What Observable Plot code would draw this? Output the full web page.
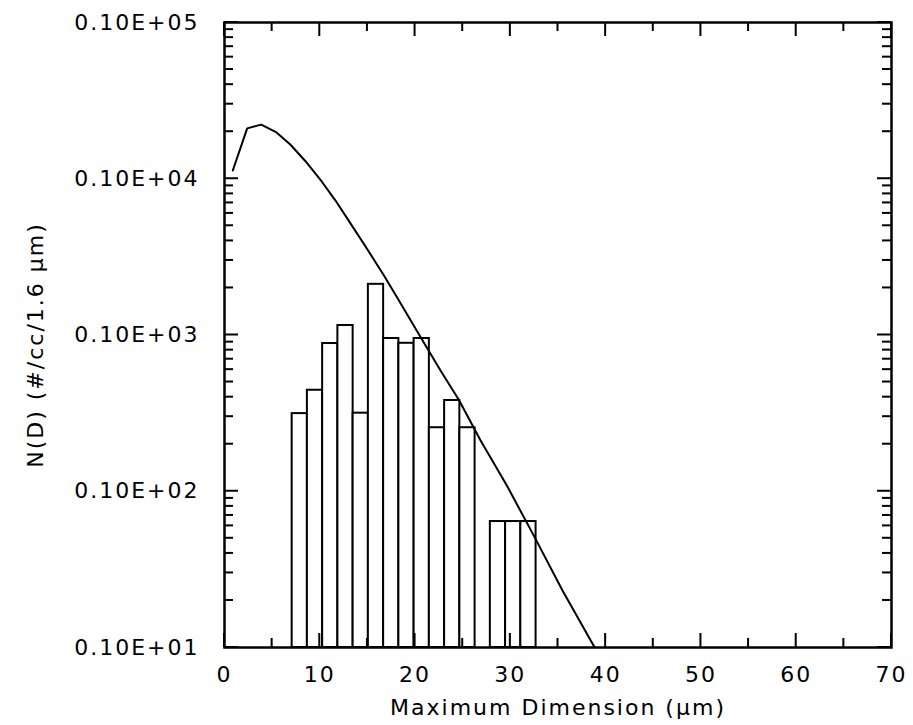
<!DOCTYPE html>
<html>
<head>
<meta charset="utf-8">
<script src="https://cdn.jsdelivr.net/npm/d3@7"></script>
<script src="https://cdn.jsdelivr.net/npm/@observablehq/plot@0.6"></script>
<style>
  html, body { margin: 0; padding: 0; background: #fff; }
  #chart svg { display: block; }
</style>
</head>
<body>
<div id="chart"></div>
<script>
// Histogram bins (Maximum Dimension, µm) and N(D) values
const binLeft  = [7.1, 8.7, 10.3, 11.9, 13.5, 15.1, 16.7, 18.3, 19.9, 21.5, 23.1, 24.7, 27.9, 29.5, 31.1];
const binRight = [8.7, 10.3, 11.9, 13.5, 15.1, 16.7, 18.3, 19.9, 21.5, 23.1, 24.7, 26.3, 29.5, 31.1, 32.7];
const binValue = [31.4, 44.3, 88.2, 115, 31.6, 211, 95, 88.5, 95, 25.5, 38.1, 25.5, 6.4, 6.4, 6.4];

// Fitted distribution curve
const curveX = [0.87, 2.38, 3.85, 5.46, 6.93, 8.5, 10.07, 11.65, 13.22, 14.97, 16.72, 18.29, 20.57, 22.67, 24.59, 26.86, 29.66, 32.46, 35.5, 38.93];
const curveY = [1130, 2100, 2220, 1980, 1650, 1295, 985, 725, 518, 355, 241, 167, 97, 59.3, 38.5, 21.2, 10.8, 5.2, 2.3, 0.98];

// Axis ticks and labels
const xMajor = [0, 10, 20, 30, 40, 50, 60, 70];
const xMinor = [5, 15, 25, 35, 45, 55, 65];
const xLabels = ["0", "10", "20", "30", "40", "50", "60", "70"];
const yMajor = [1, 10, 100, 1000, 10000];
const yLabels = ["0.10E+01", "0.10E+02", "0.10E+03", "0.10E+04", "0.10E+05"];
const yMinor = [1, 10, 100, 1000].flatMap(d => [2, 3, 4, 5, 6, 7, 8, 9].map(k => d * k));

const xTitle = "Maximum Dimension (µm)";
const yTitle = "N(D) (#/cc/1.6 µm)";

const bars = binLeft.map((x1, i) => ({x1, x2: binRight[i], v: binValue[i]}));
const curve = curveX.map((x, i) => ({x, y: curveY[i]}));

const W = 913, H = 725, ML = 224, MR = 22, MT = 22, MB = 78;
const innerW = W - ML - MR, innerH = H - MT - MB;
const majorLen = 14, minorLen = 9;

// tick helpers (filled 2px-wide rectangles pointing inward)
const xTick = (ticks, len, side) => Plot.rect(ticks, {
  x1: d => d, x2: d => d, insetLeft: -1, insetRight: -1,
  [side === "bottom" ? "insetTop" : "insetBottom"]: innerH - len, fill: "black"
});
const yTick = (ticks, len, side) => Plot.rect(ticks, {
  y1: d => d, y2: d => d, insetTop: -1, insetBottom: -1,
  [side === "left" ? "insetRight" : "insetLeft"]: innerW - len, fill: "black"
});

const chart = Plot.plot({
  width: W,
  height: H,
  marginLeft: ML,
  marginRight: MR,
  marginTop: MT,
  marginBottom: MB,
  style: {fontFamily: "DejaVu Sans", fontSize: "22px", letterSpacing: "2px", background: "#fff", color: "#000"},
  x: {domain: [0, 70]},
  y: {type: "log", domain: [1, 10000]},
  marks: [
    Plot.rect(bars, {x1: "x1", x2: "x2", y1: () => 1, y2: "v", fill: "white", stroke: "black", strokeWidth: 2}),
    Plot.line(curve, {x: "x", y: "y", stroke: "black", strokeWidth: 2, clip: true}),
    xTick(xMajor, majorLen, "bottom"),
    xTick(xMinor, minorLen, "bottom"),
    xTick(xMajor, majorLen, "top"),
    xTick(xMinor, minorLen, "top"),
    yTick(yMajor, majorLen, "left"),
    yTick(yMinor, minorLen, "left"),
    yTick(yMajor, majorLen, "right"),
    yTick(yMinor, minorLen, "right"),
    Plot.axisX({anchor: "bottom", ticks: xMajor, tickSize: 0, tickPadding: 19, label: null,
      tickFormat: d => xLabels[xMajor.indexOf(d)]}),
    Plot.axisY({anchor: "left", ticks: yMajor, tickSize: 0, tickPadding: 25, label: null,
      tickFormat: d => yLabels[yMajor.indexOf(d)]}),
    Plot.frame({stroke: "black", strokeWidth: 2.5}),
    Plot.text([xTitle], {text: d => d, frameAnchor: "bottom", textAnchor: "middle", lineAnchor: "middle",
      dy: 60, fontSize: 22, fill: "black", style: {letterSpacing: "1px"}}),
    Plot.text([yTitle], {text: d => d, frameAnchor: "left", textAnchor: "middle", lineAnchor: "middle",
      dx: -189, dy: 10, rotate: -90, fontSize: 22, fill: "black"})
  ]
});

document.getElementById("chart").appendChild(chart);
</script>
</body>
</html>
